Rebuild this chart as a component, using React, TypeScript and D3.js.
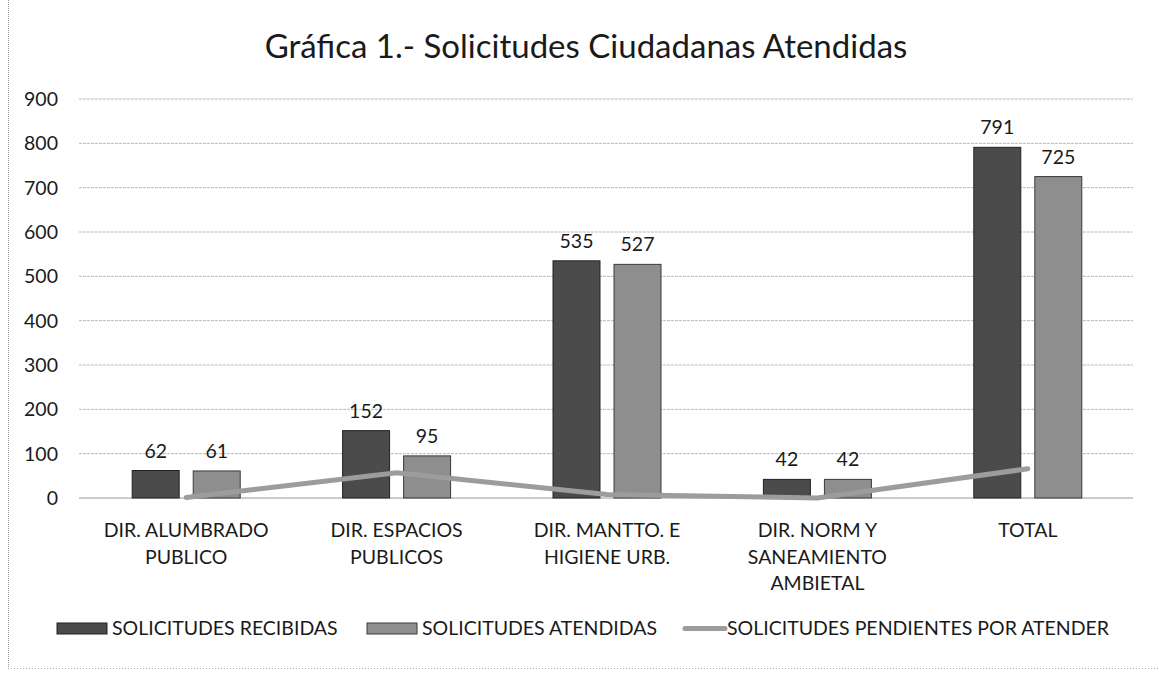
import React from 'react';
import * as d3 from 'd3';

// ---- data ----
const categories = [
  ['DIR. ALUMBRADO', 'PUBLICO'],
  ['DIR. ESPACIOS', 'PUBLICOS'],
  ['DIR. MANTTO. E', 'HIGIENE URB.'],
  ['DIR. NORM Y', 'SANEAMIENTO', 'AMBIETAL'],
  ['TOTAL'],
];
const recibidas = [62, 152, 535, 42, 791];
const atendidas = [61, 95, 527, 42, 725];
const pendientes = [1, 57, 8, 0, 66];
const yTicks = [0, 100, 200, 300, 400, 500, 600, 700, 800, 900];

const seriesNames = ['SOLICITUDES RECIBIDAS', 'SOLICITUDES ATENDIDAS', 'SOLICITUDES PENDIENTES POR ATENDER'];

const W = 1159;
const H = 673;
const FONT = 'Lato, "Open Sans", sans-serif';

export default function App() {
  const plot = { left: 81, right: 1133, top: 99, bottom: 498 };

  const x0 = d3.scaleBand<number>()
    .domain(d3.range(categories.length))
    .range([plot.left, plot.right]);
  const x1 = d3.scaleBand<string>()
    .domain(['rec', 'ate'])
    .range([x0.bandwidth() / 2 - 54, x0.bandwidth() / 2 + 54])
    .paddingInner(0.23)
    .paddingOuter(0);
  const y = d3.scaleLinear().domain([0, 900]).range([plot.bottom, plot.top]);

  const cx = (i: number) => (x0(i) as number) + x0.bandwidth() / 2;
  const line = d3.line<number>()
    .x((_, i) => cx(i))
    .y(d => y(d));

  const bars = [
    { key: 'rec', values: recibidas, fill: '#4b4b4b', stroke: '#222' },
    { key: 'ate', values: atendidas, fill: '#8e8e8e', stroke: '#3a3a3a' },
  ];

  return (
    <svg width={W} height={H} style={{ position: 'absolute', left: 0, top: 0, background: '#fff' }}
      fontFamily={FONT}>
      {/* frame */}
      <line x1={8.5} x2={8.5} y1={0} y2={668} stroke="#999" strokeDasharray="1,1" />
      <line x1={8} x2={W} y1={668.5} y2={668.5} stroke="#aaa" strokeDasharray="1,2" />

      <text x={586} y={58} textAnchor="middle" fontSize={33} fill="#1a1a1a">
        Gráfica 1.- Solicitudes Ciudadanas Atendidas
      </text>

      {/* grid + y labels */}
      {yTicks.map(t => (
        <g key={t}>
          <line x1={plot.left - 2} x2={plot.right} y1={y(t)} y2={y(t)}
            stroke={t === 0 ? '#9a9a9a' : '#b8b8b8'} strokeWidth={1} strokeDasharray={t === 0 ? undefined : '3,1'} />
          <text x={58} y={y(t) + 7} textAnchor="end" fontSize={19.5} fill="#1a1a1a">{t}</text>
        </g>
      ))}

      {/* bars */}
      {bars.map(s => s.values.map((v, i) => (
        <rect key={s.key + i}
          x={(x0(i) as number) + (x1(s.key) as number)}
          y={y(v)}
          width={x1.bandwidth()}
          height={y(0) - y(v)}
          fill={s.fill} stroke={s.stroke} strokeWidth={1} />
      )))}

      {/* value labels */}
      {bars.map(s => s.values.map((v, i) => (
        <text key={'l' + s.key + i}
          x={(x0(i) as number) + (x1(s.key) as number) + x1.bandwidth() / 2}
          y={y(v) - 13}
          textAnchor="middle" fontSize={19.5} fill="#1a1a1a">{v}</text>
      )))}

      {/* pending line */}
      <path d={line(pendientes) || ''} fill="none" stroke="#9c9c9c" strokeWidth={5} strokeLinecap="round" />

      {/* category labels */}
      {categories.map((lines, i) => (
        <text key={'c' + i} x={cx(i)} y={537} textAnchor="middle" fontSize={19.5} fill="#1a1a1a">
          {lines.map((l, j) => (
            <tspan key={j} x={cx(i)} dy={j === 0 ? 0 : 26.5}>{l}</tspan>
          ))}
        </text>
      ))}

      {/* legend */}
      <rect x={57} y={623} width={50} height={11} fill="#4b4b4b" stroke="#222" />
      <text x={112} y={635} fontSize={19.5} fill="#1a1a1a">{seriesNames[0]}</text>
      <rect x={367} y={623} width={50} height={11} fill="#8e8e8e" stroke="#3a3a3a" />
      <text x={422} y={635} fontSize={19.5} fill="#1a1a1a">{seriesNames[1]}</text>
      <line x1={685} x2={725} y1={628.5} y2={628.5} stroke="#9c9c9c" strokeWidth={5} strokeLinecap="round" />
      <text x={727} y={635} fontSize={19.5} fill="#1a1a1a">{seriesNames[2]}</text>
    </svg>
  );
}
